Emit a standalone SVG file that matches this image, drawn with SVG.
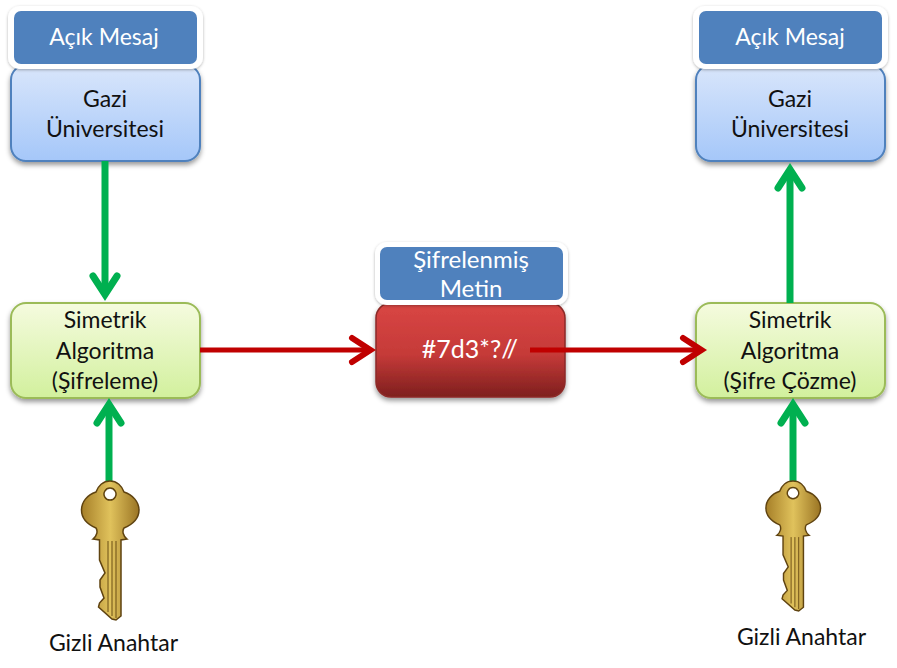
<svg xmlns="http://www.w3.org/2000/svg" xmlns:xlink="http://www.w3.org/1999/xlink" width="897" height="668" viewBox="0 0 897 668">
<style>
text{font-family:"Lato","Open Sans","Liberation Sans",sans-serif;font-size:23px;text-anchor:middle;fill:#111}
.w{fill:#fff}
.t{fill:#4f81bd}
.tw{fill:#fff;filter:url(#sh2)}
.g{fill:none;stroke:#00b050;stroke-width:7;marker-end:url(#ga)}
.r{fill:none;stroke:#c00000;stroke-width:5;marker-end:url(#ra)}
.b{fill:url(#bg);stroke:#4f81bd;stroke-width:2;filter:url(#sh)}
.l{fill:url(#lg);stroke:#9bbb59;stroke-width:2;filter:url(#sh)}
.k{fill:url(#kg);stroke:#5f4310;stroke-width:1.500}
.kl{fill:none;stroke:#6b4e14;stroke-width:1}
</style>
<defs>
<linearGradient id="bg" x1="0" y1="0" x2="0" y2="1"><stop offset="0" stop-color="#d9e6fb"/><stop offset="1" stop-color="#a5c7f9"/></linearGradient>
<linearGradient id="lg" x1="0" y1="0" x2="0" y2="1"><stop offset="0" stop-color="#f5fbdf"/><stop offset="1" stop-color="#d2f09d"/></linearGradient>
<linearGradient id="rg" x1="0" y1="0" x2="0" y2="1"><stop offset="0" stop-color="#d94644"/><stop offset=".55" stop-color="#c53a38"/><stop offset="1" stop-color="#7e1f1e"/></linearGradient>
<linearGradient id="kg" x1="0" y1="0" x2="1" y2="0"><stop offset="0" stop-color="#a67f28"/><stop offset=".5" stop-color="#e0c25c"/><stop offset="1" stop-color="#9a7424"/></linearGradient>
<filter id="sh" x="-10%" y="-10%" width="120%" height="125%"><feDropShadow dx="0" dy="3" stdDeviation="2.500" flood-color="#000" flood-opacity=".4"/></filter>
<filter id="sh2" x="-10%" y="-10%" width="120%" height="125%"><feDropShadow dx="0" dy="1" stdDeviation="1.500" flood-color="#000" flood-opacity=".3"/></filter>
<marker id="ga" markerUnits="userSpaceOnUse" markerWidth="40" markerHeight="40" refX="24" refY="20" orient="auto"><path d="M5.500 8L24 20L5.500 32" fill="none" stroke="#00b050" stroke-width="7" stroke-linecap="round"/></marker>
<marker id="ra" markerUnits="userSpaceOnUse" markerWidth="40" markerHeight="40" refX="24" refY="20" orient="auto"><path d="M5.500 8L24 20L5.500 32" fill="none" stroke="#c00000" stroke-width="6" stroke-linecap="round"/></marker>
<g id="key">
<path class="k" fill-rule="evenodd" d="M110 481C117 481 122 486 124 492C133 495 139 502 139 510C139 519 131 525 124 528C122 531 123 536 127 539L121 540L121 616L116 620L112 619L98.500 607L99.500 603L104 598L100 587L100 580L105 573L99.500 560L99.500 540L93 539C97 536 98 531 96 528C89 525 81.500 519 81.500 510C81.500 502 87 495 96 492C98 486 103 481 110 481ZM110 488A6 6 0 1 0 110.010 488Z"/>
<path class="kl" d="M108 541V612M112 541V616M116 541V618"/>
</g>
</defs>
<g id="plain-left"><rect class="b" x="11" y="65" width="189" height="96" rx="15"/><text x="105" y="107">Gazi</text><text x="105" y="137">Üniversitesi</text></g>
<g id="title-left"><rect class="tw" x="8" y="6" width="195" height="63" rx="12"/><rect class="t" x="14" y="11" width="183" height="53" rx="7"/><text class="w" x="104" y="45">Açık Mesaj</text></g>
<g id="plain-right"><rect class="b" x="696" y="65" width="189" height="96" rx="15"/><text x="790" y="107">Gazi</text><text x="790" y="137">Üniversitesi</text></g>
<g id="title-right"><rect class="tw" x="693" y="6" width="195" height="63" rx="12"/><rect class="t" x="699" y="11" width="183" height="53" rx="7"/><text class="w" x="790" y="45">Açık Mesaj</text></g>
<g id="algo-left"><rect class="l" x="11" y="303" width="189" height="95" rx="15"/><text x="105" y="328">Simetrik</text><text x="105" y="359">Algoritma</text><text x="105" y="389">(Şifreleme)</text></g>
<g id="algo-right"><rect class="l" x="696" y="303" width="189" height="95" rx="15"/><text x="790" y="328">Simetrik</text><text x="790" y="359">Algoritma</text><text x="790" y="389">(Şifre Çözme)</text></g>
<g id="cipher"><rect x="376" y="303" width="189" height="94" rx="15" fill="url(#rg)" stroke="#8c2a28" stroke-width="1.500" filter="url(#sh)"/><text class="w" x="470" y="358" style="font-size:25px">#7d3*?//</text></g>
<g id="title-cipher"><rect class="tw" x="375" y="242" width="193" height="63" rx="12"/><rect class="t" x="380" y="247" width="183" height="53" rx="7"/><text class="w" x="471" y="268" style="font-size:24px">Şifrelenmiş</text><text class="w" x="471" y="297" style="font-size:24px">Metin</text></g>
<g id="connectors">
<path class="g" d="M105 161V294.500"/>
<path class="g" d="M109 482V404.500"/>
<path class="g" d="M790 303V169.500"/>
<path class="g" d="M793 483V404.500"/>
<path class="r" d="M200 350H370.500"/>
<path class="r" d="M530 350H701.500"/>
</g>
<g id="key-left"><use xlink:href="#key"/><text x="113.500" y="651">Gizli Anahtar</text></g>
<g id="key-right"><use xlink:href="#key" transform="translate(793 481) scale(.95 .935) translate(-110 -481)"/><text x="801.500" y="645">Gizli Anahtar</text></g>
</svg>
